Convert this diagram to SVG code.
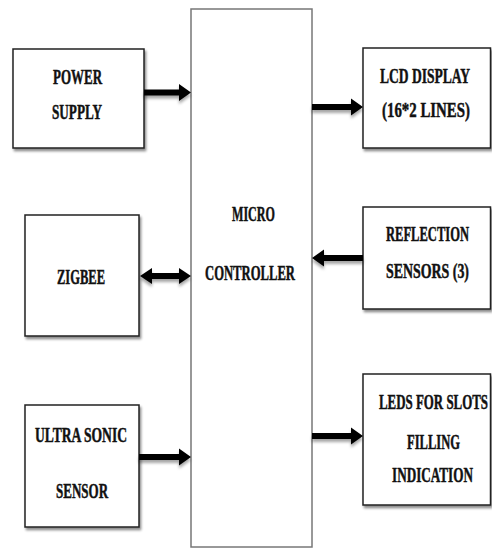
<svg xmlns="http://www.w3.org/2000/svg" width="492" height="549" viewBox="0 0 492 549">
<style>
.box{fill:#fff;stroke:#222;stroke-width:1.5;filter:url(#sh)}
.mc{fill:#fff;stroke:#777;stroke-width:1.5}
.t{font-family:"Liberation Serif",serif;font-weight:bold;font-size:22px;fill:#111;stroke:#111;stroke-width:0.5;text-anchor:middle}
.ar{fill:#000;filter:url(#ash)}
</style>
<defs>
<filter id="sh" x="-10%" y="-10%" width="125%" height="125%">
<feDropShadow dx="1.5" dy="2.5" stdDeviation="1.2" flood-color="#000" flood-opacity="0.45"/>
</filter>
<filter id="ash" x="-20%" y="-50%" width="140%" height="220%">
<feDropShadow dx="0" dy="3" stdDeviation="1.5" flood-color="#000" flood-opacity="0.35"/>
</filter>
</defs>
<g id="micro-controller">
<rect class="mc" x="191" y="9" width="121" height="538"/>
<text class="t" transform="translate(253.5,221) scale(0.6,1)" textLength="71.7" lengthAdjust="spacingAndGlyphs">MICRO</text>
<text class="t" transform="translate(250,280) scale(0.6,1)" textLength="150" lengthAdjust="spacingAndGlyphs">CONTROLLER</text>
</g>
<g id="power-supply">
<rect class="box" x="13" y="49" width="131" height="99"/>
<text class="t" transform="translate(77.5,84) scale(0.6,1)" textLength="81.7" lengthAdjust="spacingAndGlyphs">POWER</text>
<text class="t" transform="translate(77,119) scale(0.6,1)" textLength="83.3" lengthAdjust="spacingAndGlyphs">SUPPLY</text>
</g>
<g id="zigbee">
<rect class="box" x="25" y="215" width="114" height="121"/>
<text class="t" transform="translate(81,284) scale(0.6,1)" textLength="80" lengthAdjust="spacingAndGlyphs">ZIGBEE</text>
</g>
<g id="ultrasonic">
<rect class="box" x="25" y="405" width="114" height="122"/>
<text class="t" transform="translate(81,442) scale(0.6,1)" textLength="153.3" lengthAdjust="spacingAndGlyphs">ULTRA SONIC</text>
<text class="t" transform="translate(82,498) scale(0.6,1)" textLength="86.7" lengthAdjust="spacingAndGlyphs">SENSOR</text>
</g>
<g id="lcd">
<rect class="box" x="363" y="48" width="127.5" height="100"/>
<text class="t" transform="translate(425,83) scale(0.6,1)" textLength="150" lengthAdjust="spacingAndGlyphs">LCD DISPLAY</text>
<text class="t" transform="translate(426,117) scale(0.6,1)" textLength="146.7" lengthAdjust="spacingAndGlyphs">(16*2 LINES)</text>
</g>
<g id="reflection">
<rect class="box" x="363" y="207" width="127.5" height="102"/>
<text class="t" transform="translate(427.5,241) scale(0.6,1)" textLength="138.3" lengthAdjust="spacingAndGlyphs">REFLECTION</text>
<text class="t" transform="translate(427.5,278) scale(0.6,1)" textLength="138.3" lengthAdjust="spacingAndGlyphs">SENSORS (3)</text>
</g>
<g id="leds">
<rect class="box" x="363" y="374" width="127.5" height="131"/>
<text class="t" transform="translate(433.5,409) scale(0.6,1)" textLength="181.7" lengthAdjust="spacingAndGlyphs">LEDS FOR SLOTS</text>
<text class="t" transform="translate(433.5,449) scale(0.6,1)" textLength="88.3" lengthAdjust="spacingAndGlyphs">FILLING</text>
<text class="t" transform="translate(432.5,482) scale(0.6,1)" textLength="135" lengthAdjust="spacingAndGlyphs">INDICATION</text>
</g>
<g id="connectors">
<path class="ar" d="M144,89.5 H179 V84 L191,92.5 L179,101 V95.5 H144 Z"/>
<path class="ar" d="M312,104 H351 V98.5 L363,107 L351,115.5 V110 H312 Z"/>
<path class="ar" d="M140,276 L152,268 V273 H179 V268 L191,276 L179,284 V279 H152 V284 Z"/>
<path class="ar" d="M363,255 H324 V249.5 L312,258 L324,266.5 V261 H363 Z"/>
<path class="ar" d="M139,454 H179 V448.5 L191,457 L179,465.5 V460 H139 Z"/>
<path class="ar" d="M312,433 H351 V427.5 L363,436 L351,444.5 V439 H312 Z"/>
</g>
</svg>
